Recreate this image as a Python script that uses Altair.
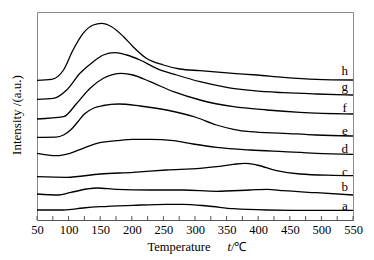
import altair as alt
import pandas as pd

# Temperature (x) and intensity (a.u.) for each curve
a_x = [50, 92, 123, 150, 202, 255, 281, 320, 361, 414, 466, 550]
a_y = [10, 10, 12, 13.3, 14.7, 15.7, 15.7, 14, 11.3, 10, 9.7, 9.7]

b_x = [50, 84, 102, 129, 145, 176, 229, 281, 334, 387, 414, 440, 492, 550]
b_y = [26, 25, 27.3, 31, 32, 30.7, 30, 30, 28.7, 30, 30.7, 29.3, 27.3, 25]

c_x = [50, 97, 150, 202, 255, 308, 334, 361, 379, 398, 429, 466, 519, 550]
c_y = [43.3, 42.7, 46, 47.7, 50, 51.7, 53.3, 55.7, 56.7, 55, 49.3, 46, 44.7, 44.3]

d_x = [50, 81, 102, 123, 145, 176, 202, 229, 266, 297, 334, 387, 440, 492, 550]
d_y = [66.7, 64.3, 66.7, 71.7, 76.7, 79.3, 80.7, 80.7, 79.3, 76, 72.7, 70, 68.3, 66.7, 65.7]

e_x = [50, 80, 92, 104, 115, 125, 140, 155, 179, 213, 255, 300, 334, 361, 387, 440, 492, 550]
e_y = [82.7, 82.9, 85, 90.5, 98.5, 106, 112, 114.5, 116, 114, 110, 103, 95, 90.7, 88.3, 86.7, 85, 84]

f_x = [50, 92, 113, 134, 155, 184, 202, 229, 266, 308, 361, 414, 466, 550]
f_y = [101, 103.3, 116.7, 131.7, 141.7, 146.7, 145, 138.3, 128.3, 120, 113.3, 110, 107.7, 106]

g_x = [50, 76, 97, 118, 139, 155, 173, 192, 213, 239, 271, 308, 350, 392, 440, 492, 550]
g_y = [120.7, 121.7, 130, 146.7, 158.3, 165, 167.3, 165, 160, 151.7, 145, 138.3, 132.7, 129.3, 127.3, 126, 125]

h_x = [50, 73, 92, 107, 123, 139, 152, 168, 187, 202, 223, 250, 276, 308, 360, 398, 440, 492, 550]
h_y = [139.7, 140.7, 150, 170, 186.7, 195, 196.7, 193.3, 183.3, 173.3, 161.7, 155, 151, 149.3, 146.7, 145, 142.7, 140.7, 140]

series_names = ["a", "b", "c", "d", "e", "f", "g", "h"]
label_x = [537] * 8
label_y = [14, 33.3, 48.3, 70.7, 89.3, 111.7, 132.7, 149.3]

x_ticks = [50, 100, 150, 200, 250, 300, 350, 400, 450, 500, 550]
minor_ticks = list(range(50, 551, 25))

curves = [(a_x, a_y), (b_x, b_y), (c_x, c_y), (d_x, d_y),
          (e_x, e_y), (f_x, f_y), (g_x, g_y), (h_x, h_y)]
rows = []
for name, (xs, ys) in zip(series_names, curves):
    for xv, yv in zip(xs, ys):
        rows.append({"T": xv, "I": yv, "s": name})
df = pd.DataFrame(rows)
labels = pd.DataFrame({"T": label_x, "I": label_y, "s": series_names})
ticks = pd.DataFrame({"T": minor_ticks})

FONT = "Liberation Serif"
W, H = 316, 208

xscale = alt.Scale(domain=[50, 550], nice=False, zero=False)
yscale = alt.Scale(domain=[0, 208], nice=False, zero=False)

xaxis = alt.Axis(values=x_ticks, title=None, ticks=False, grid=False,
                 domainColor="#555", domainWidth=1,
                 labelFont=FONT, labelFontSize=12.5, labelColor="black",
                 labelPadding=3, labelFlush=False, labelOverlap=False)

lines = alt.Chart(df).mark_line(color="black", strokeWidth=1.3, interpolate="monotone").encode(
    x=alt.X("T:Q", scale=xscale, axis=xaxis),
    y=alt.Y("I:Q", scale=yscale, axis=None),
    detail="s:N",
)

tickmarks = alt.Chart(ticks).mark_rule(color="#555", strokeWidth=1).encode(
    x=alt.X("T:Q", scale=xscale, axis=xaxis),
    y=alt.value(H),
    y2=alt.value(H - 4),
)

text_labels = alt.Chart(labels).mark_text(font=FONT, fontSize=13, color="black",
                                          baseline="middle", align="center").encode(
    x=alt.X("T:Q", scale=xscale, axis=xaxis),
    y=alt.Y("I:Q", scale=yscale, axis=None),
    text="s:N",
)

title_df = pd.DataFrame({"k": [0]})
xt1 = alt.Chart(title_df).mark_text(text="Temperature", font=FONT, fontSize=12.5,
                                    color="black", baseline="middle", align="center").encode(
    x=alt.value(142), y=alt.value(235))
xt2 = alt.Chart(title_df).mark_text(text="t", font=FONT, fontSize=12.5, fontStyle="italic",
                                    color="black", baseline="middle", align="right").encode(
    x=alt.value(194), y=alt.value(235))
xt3 = alt.Chart(title_df).mark_text(text=" /℃", font=FONT, fontSize=12.5,
                                    color="black", baseline="middle", align="left").encode(
    x=alt.value(194), y=alt.value(235))
yt = alt.Chart(title_df).mark_text(text="Intensity /(a.u.)", font=FONT, fontSize=13,
                                   color="black", baseline="middle", align="center",
                                   angle=270).encode(
    x=alt.value(-20), y=alt.value(103))

chart = alt.layer(lines, tickmarks, text_labels, xt1, xt2, xt3, yt).properties(
    width=W, height=H,
    background="white",
    autosize=alt.AutoSizeParams(type="none"),
    padding={"left": 29, "top": 4, "right": 10, "bottom": 36},
).configure_view(stroke="#8a8a8a", strokeWidth=1).configure_axis(
    labelOverlap=False, labelFont=FONT, labelFontSize=12.5
)

chart.save("out.html", embed_options={"renderer": "svg", "actions": False})
